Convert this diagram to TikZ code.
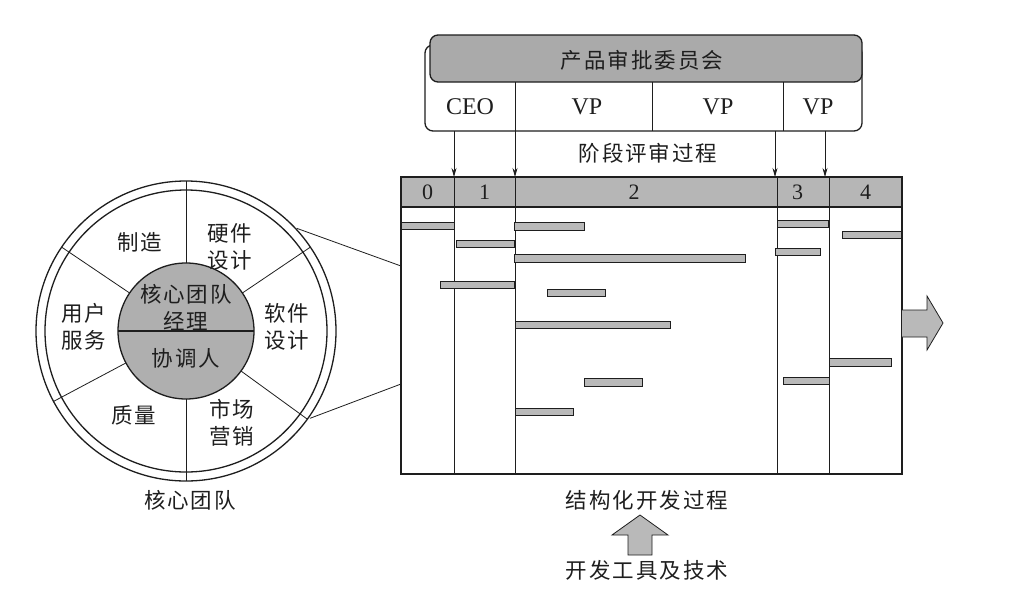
\documentclass[tikz,border=0pt]{standalone}
\usepackage{fontspec}
\setmainfont{Liberation Serif}
\newfontfamily\cjk[LetterSpace=9]{Noto Sans CJK SC}
\usetikzlibrary{arrows.meta}
\definecolor{titlegray}{RGB}{170,170,170}
\definecolor{headgray}{RGB}{182,182,182}
\definecolor{bargray}{RGB}{185,185,185}
\definecolor{hubgray}{RGB}{175,175,175}
\definecolor{ink}{RGB}{30,30,30}
\tikzset{
  cjktxt/.style={inner sep=0pt, font=\cjk\fontsize{21.5}{27}\selectfont, text=ink, align=center},
  latxt/.style={inner sep=0pt, font=\fontsize{24}{26}\selectfont, text=ink},
  numtxt/.style={inner sep=0pt, font=\fontsize{22}{24}\selectfont, text=ink},
  thinline/.style={draw=ink, line width=0.8pt},
  medline/.style={draw=ink, line width=1.3pt},
  thickline/.style={draw=ink, line width=2pt},
  bar/.style={fill=bargray, draw=ink, line width=0.8pt},
  reviewarrow/.style={draw=ink, line width=0.8pt, -{Stealth[length=9pt,width=5pt]}},
}
\begin{document}
\begin{tikzpicture}[x=1pt,y=-1pt]
\useasboundingbox[fill=white] (0,0) rectangle (1024,592);

% ---------- top committee box ----------
\draw[medline, fill=white, rounded corners=8pt] (425,45) rectangle (862,131);
\draw[medline, fill=titlegray, rounded corners=8pt] (430,35) rectangle (862,82);
\draw[thinline] (515,82) -- (515,131);
\draw[thinline] (652,82) -- (652,131);
\draw[thinline] (783,82) -- (783,131);
\node[cjktxt] (committee) at (642,60) {产品审批委员会};
\node[latxt] (ceo) at (470,107) {CEO};
\node[latxt] (vpa) at (587,107) {VP};
\node[latxt] (vpb) at (718,107) {VP};
\node[latxt] (vpc) at (818,107) {VP};
\node[cjktxt] (review) at (648,153) {阶段评审过程};

% ---------- chart ----------
\fill[headgray] (401,177) rectangle (902,207);
\draw[thinline] (454,177) -- (454,474);
\draw[thinline] (515,177) -- (515,474);
\draw[thinline] (777,177) -- (777,474);
\draw[thinline] (829,177) -- (829,474);
\draw[medline] (401,207) -- (902,207);
\node[numtxt] (p0) at (427.5,192) {0};
\node[numtxt] (p1) at (484.6,192) {1};
\node[numtxt] (p2) at (634,192) {2};
\node[numtxt] (p3) at (797.6,192) {3};
\node[numtxt] (p4) at (865.5,192) {4};

% arrows from committee to chart
\coordinate (a0s) at (454,131); \coordinate (a0e) at (454,177);
\coordinate (a1s) at (515,131); \coordinate (a1e) at (515,177);
\coordinate (a2s) at (775,131); \coordinate (a2e) at (775,177);
\coordinate (a3s) at (825,131); \coordinate (a3e) at (825,177);
\draw[reviewarrow] (a0s) -- (a0e);
\draw[reviewarrow] (a1s) -- (a1e);
\draw[reviewarrow] (a2s) -- (a2e);
\draw[reviewarrow] (a3s) -- (a3e);

% bars
\draw[bar] (401,222) rectangle (454,229);
\draw[bar] (514,222) rectangle (584,230);
\draw[bar] (777,220) rectangle (828,227);
\draw[bar] (842,231) rectangle (902,238);
\draw[bar] (456,240) rectangle (514,247);
\draw[bar] (514,254) rectangle (745,262);
\draw[bar] (775,248) rectangle (820,255);
\draw[bar] (440,281) rectangle (514,288);
\draw[bar] (547,289) rectangle (605,296);
\draw[bar] (515,321) rectangle (670,328);
\draw[bar] (829,358) rectangle (891,366);
\draw[bar] (584,378) rectangle (642,386);
\draw[bar] (783,377) rectangle (829,384);
\draw[bar] (515,408) rectangle (573,415);

\draw[thickline] (401,177) rectangle (902,474);

% big output arrow
\draw[thinline, fill=bargray] (902,310) -- (927,310) -- (927,296) -- (943,323) -- (927,350) -- (927,337) -- (902,337);

\node[cjktxt] (structured) at (647,500) {结构化开发过程};
\draw[thinline, fill=bargray] (640,515) -- (668,535) -- (652,535) -- (652,555) -- (628,555) -- (628,535) -- (612,535) -- cycle;
\node[cjktxt] (tools) at (647,570) {开发工具及技术};

% ---------- core team circle ----------
\coordinate (cc) at (186,331);
\draw[medline] (cc) circle[radius=150pt];
\draw[medline] (cc) circle[radius=141pt];
\draw[medline, fill=hubgray] (cc) circle[radius=68pt];
\draw[medline] (118,331) -- (254,331);
\draw[thinline] (186,263) -- (186,181);
\draw[thinline] (186,399) -- (186,481);
\draw[thinline] (242.4,293) -- (310.4,247.1);
\draw[thinline] (129.6,293) -- (61.6,247.1);
\draw[thinline] (241,371) -- (307.4,419.2);
\draw[thinline] (126,362.9) -- (53.6,401.4);

\node[cjktxt] (mfg) at (140,242) {制造};
\node[cjktxt] (hw) at (230,247) {硬件\\设计};
\node[cjktxt] (user) at (84,327) {用户\\服务};
\node[cjktxt] (sw) at (287,327) {软件\\设计};
\node[cjktxt] (quality) at (134,415) {质量};
\node[cjktxt] (mkt) at (232,423) {市场\\营销};
\node[cjktxt] (mgr) at (186,307) {核心团队\\经理};
\node[cjktxt] (coord) at (186,358) {协调人};
\node[cjktxt] (coreteam) at (190,500) {核心团队};

% zoom lines from circle to chart
\coordinate (zu1) at (296.7,228.3); \coordinate (zu2) at (401,266);
\coordinate (zl1) at (310,418.3); \coordinate (zl2) at (401,384);
\draw[thinline] (zu1) -- (zu2);
\draw[thinline] (zl1) -- (zl2);
\end{tikzpicture}
\end{document}
